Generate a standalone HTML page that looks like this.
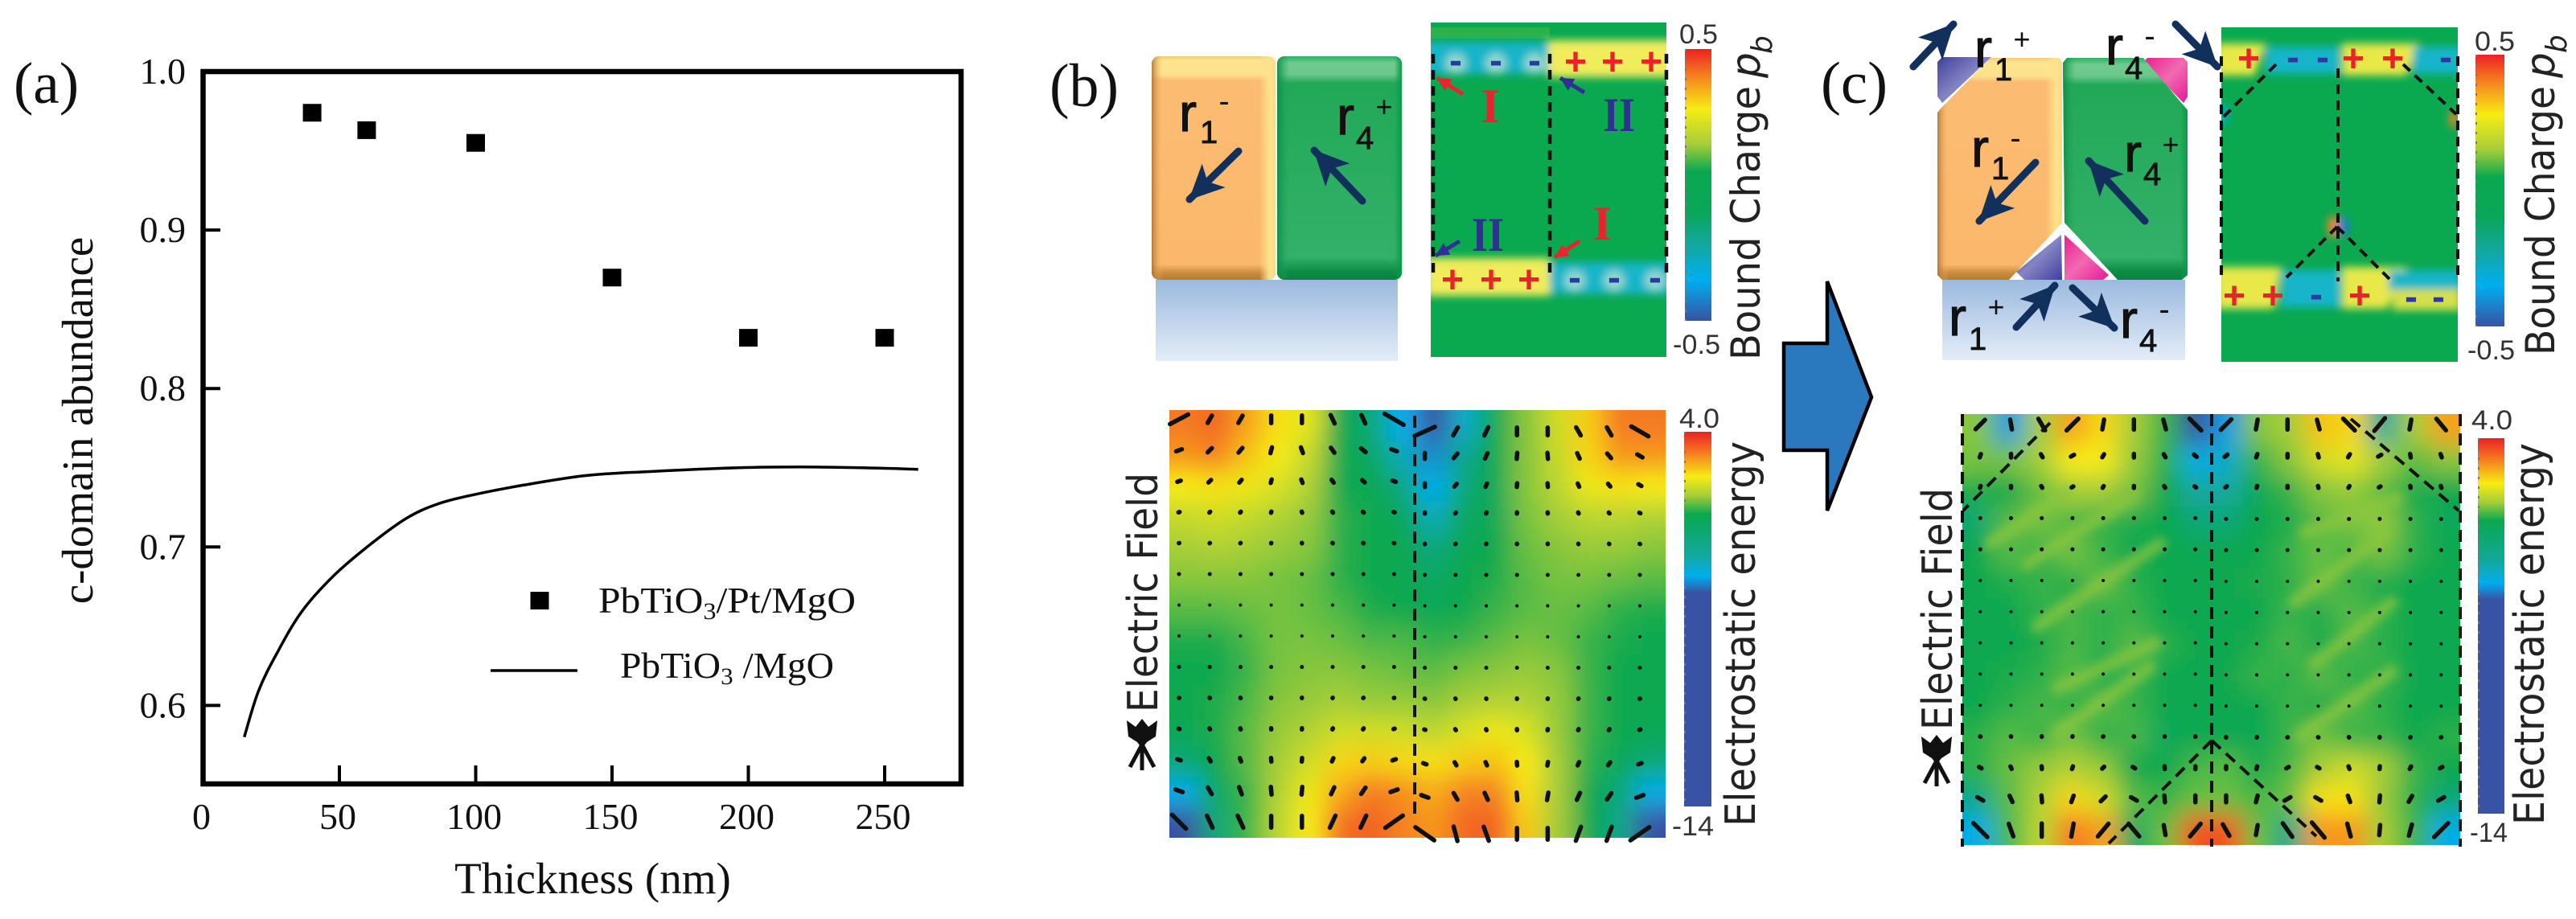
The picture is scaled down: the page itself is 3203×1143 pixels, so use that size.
<!DOCTYPE html>
<html lang="en">
<head>
<meta charset="utf-8">
<title>c-domain abundance and domain charge maps</title>
<style>
html,body{margin:0;padding:0;background:#fff;}
svg{display:block;}
.serif{font-family:"Liberation Serif",serif;fill:#111;}
.sans{font-family:"DejaVu Sans",sans-serif;fill:#222;}
.cb{font-family:"Liberation Sans",sans-serif;fill:#333;font-size:34px;}
.chg{font-family:"Liberation Sans",sans-serif;font-weight:bold;font-size:48px;text-anchor:middle;}
.r{font-family:"Liberation Sans",sans-serif;fill:#111;stroke:#111;stroke-width:1.2;font-size:66px;}
.d{font-family:"Liberation Sans",sans-serif;fill:#111;stroke:#111;stroke-width:.8;font-size:40px;}
.s{font-family:"Liberation Sans",sans-serif;fill:#111;text-anchor:middle;}
.roman{font-family:"Liberation Serif",serif;font-weight:bold;font-size:60px;text-anchor:middle;}
</style>
</head>
<body>
<svg id="fig" xmlns="http://www.w3.org/2000/svg" width="3203" height="1143" viewBox="0 0 3203 1143">
<defs>
  <linearGradient id="gOrange" x1="0" y1="0" x2="0" y2="1">
    <stop offset="0" stop-color="#f6c878"/><stop offset=".02" stop-color="#fde48f"/><stop offset=".08" stop-color="#fde28d"/><stop offset=".11" stop-color="#fbbc72"/><stop offset=".93" stop-color="#fbb86c"/><stop offset=".97" stop-color="#c98b3d"/><stop offset="1" stop-color="#b87c30"/>
  </linearGradient>
  <linearGradient id="gOrangeH" x1="0" y1="0" x2="1" y2="0">
    <stop offset="0" stop-color="#a8702a" stop-opacity=".85"/><stop offset=".09" stop-color="#fbbc72" stop-opacity="0"/><stop offset=".87" stop-color="#fde28d" stop-opacity="0"/><stop offset=".95" stop-color="#fde28d"/><stop offset="1" stop-color="#fddc80"/>
  </linearGradient>
  <linearGradient id="gGreen" x1="0" y1="0" x2="0" y2="1">
    <stop offset="0" stop-color="#2cb062"/><stop offset=".03" stop-color="#6fca90"/><stop offset=".08" stop-color="#6cc88d"/><stop offset=".12" stop-color="#21a957"/><stop offset=".9" stop-color="#33b06a"/><stop offset=".96" stop-color="#0d8d46"/><stop offset="1" stop-color="#0a8140"/>
  </linearGradient>
  <linearGradient id="gGreenH" x1="0" y1="0" x2="1" y2="0">
    <stop offset="0" stop-color="#0b8a45" stop-opacity=".9"/><stop offset=".1" stop-color="#21a957" stop-opacity="0"/><stop offset=".94" stop-color="#0b9a4a" stop-opacity="0"/><stop offset="1" stop-color="#0b9a4a"/>
  </linearGradient>
  <linearGradient id="gSub" x1="0" y1="0" x2="0" y2="1">
    <stop offset="0" stop-color="#9cb9df"/><stop offset="1" stop-color="#e3edf8"/>
  </linearGradient>
  <linearGradient id="gPurple" x1="0" y1="0" x2="1" y2="1">
    <stop offset="0" stop-color="#3f3f9f"/><stop offset=".5" stop-color="#8584c4"/><stop offset="1" stop-color="#3f3f9f"/>
  </linearGradient>
  <linearGradient id="gPink" x1="0" y1="0" x2="1" y2="1">
    <stop offset="0" stop-color="#ec1c8f"/><stop offset=".5" stop-color="#f06ab0"/><stop offset="1" stop-color="#e8189a"/>
  </linearGradient>
  <linearGradient id="gCharge" x1="0" y1="0" x2="0" y2="1">
    <stop offset="0" stop-color="#ed2024"/><stop offset=".1" stop-color="#f58220"/><stop offset=".22" stop-color="#f7ec13"/><stop offset=".35" stop-color="#a6ce39"/><stop offset=".45" stop-color="#0aa84f"/><stop offset=".6" stop-color="#0aa65a"/><stop offset=".72" stop-color="#13a89e"/><stop offset=".85" stop-color="#00aeef"/><stop offset="1" stop-color="#3953a4"/>
  </linearGradient>
  <linearGradient id="gEnergy" x1="0" y1="0" x2="0" y2="1">
    <stop offset="0" stop-color="#ed2024"/><stop offset=".06" stop-color="#f58220"/><stop offset=".12" stop-color="#f7ec13"/><stop offset=".17" stop-color="#a6ce39"/><stop offset=".22" stop-color="#0aa84f"/><stop offset=".33" stop-color="#13a89e"/><stop offset=".385" stop-color="#00aeef"/><stop offset=".43" stop-color="#3953a4"/><stop offset="1" stop-color="#3953a4"/>
  </linearGradient>
  <filter id="blurMap" filterUnits="userSpaceOnUse" x="1300" y="400" width="1900" height="743"><feGaussianBlur stdDeviation="15"/></filter>
  <filter id="blurBand" filterUnits="userSpaceOnUse" x="1700" y="0" width="1450" height="480"><feGaussianBlur stdDeviation="5"/></filter>
  <filter id="blurStreak" filterUnits="userSpaceOnUse" x="2400" y="500" width="700" height="600"><feGaussianBlur stdDeviation="6"/></filter>
  <clipPath id="clipEB"><rect x="1454" y="510" width="617" height="532"/></clipPath>
  <clipPath id="clipEC"><rect x="2440" y="515" width="619" height="536"/></clipPath>
  <clipPath id="clipMB"><rect x="1779" y="28" width="293" height="416"/></clipPath>
  <clipPath id="clipMC"><rect x="2762" y="34" width="294" height="416"/></clipPath>
  <marker id="headNavy" markerUnits="strokeWidth" markerWidth="4.8" markerHeight="4.6" viewBox="0 0 4.8 4.6" refX="4.7" refY="2.3" orient="auto"><polygon points="0,0 4.8,2.3 0,4.6 1.2,2.3" fill="#12305c"/></marker>
  <marker id="headRed" markerUnits="strokeWidth" markerWidth="3.4" markerHeight="3.4" viewBox="0 0 3.4 3.4" refX="3.3" refY="1.7" orient="auto"><polygon points="0,0 3.4,1.7 0,3.4" fill="#e5262c"/></marker>
  <marker id="headBlue" markerUnits="strokeWidth" markerWidth="3.4" markerHeight="3.4" viewBox="0 0 3.4 3.4" refX="3.3" refY="1.7" orient="auto"><polygon points="0,0 3.4,1.7 0,3.4" fill="#2e3192"/></marker>
</defs>

<rect x="0" y="0" width="3203" height="1143" fill="#fff"/>

<!-- PANEL A -->
<g id="panelA">
  <text class="serif" x="17" y="128" font-size="73">(a)</text>
  <rect x="252.5" y="89" width="942.5" height="886" fill="none" stroke="#000" stroke-width="6.5"/>
  <g id="aTicks"></g>
  <text class="serif" transform="translate(115,523) rotate(-90)" text-anchor="middle" font-size="55">c-domain abundance</text>
  <text class="serif" x="737" y="1111" text-anchor="middle" font-size="55">Thickness (nm)</text>
  <g id="aSeries"></g>
  <rect x="659.5" y="736" width="23" height="22" fill="#000"/>
  <text class="serif" x="744" y="762" font-size="46" textLength="320" lengthAdjust="spacingAndGlyphs">PbTiO<tspan font-size="30" dy="8">3</tspan><tspan dy="-8">/Pt/MgO</tspan></text>
  <line x1="610" y1="834" x2="718" y2="834" stroke="#000" stroke-width="3.5"/>
  <text class="serif" x="771" y="843" font-size="46" textLength="266" lengthAdjust="spacingAndGlyphs">PbTiO<tspan font-size="30" dy="8">3</tspan><tspan dy="-8"> /MgO</tspan></text>
</g>

<!-- PANEL B SCHEMATIC -->
<g id="panelB">
  <text class="serif" x="1305" y="132" font-size="76" textLength="86" lengthAdjust="spacingAndGlyphs">(b)</text>
  <rect x="1437" y="348" width="301" height="101" fill="url(#gSub)"/>
  <rect x="1432" y="70" width="154" height="278" rx="9" fill="url(#gOrange)"/>
  <rect x="1432" y="70" width="154" height="278" rx="9" fill="url(#gOrangeH)"/>
  <rect x="1588" y="70" width="155" height="278" rx="9" fill="url(#gGreen)"/>
  <rect x="1588" y="70" width="155" height="278" rx="9" fill="url(#gGreenH)"/>
  <text class="r" x="1466" y="163">r</text>
  <text class="d" x="1492" y="178">1</text>
  <text class="s" x="1522" y="139" font-size="40">-</text>
  <text class="r" x="1662" y="167">r</text>
  <text class="d" x="1686" y="185">4</text>
  <text class="s" x="1721" y="145" font-size="36">+</text>
  <line x1="1540" y1="188" x2="1479" y2="248" stroke="#12305c" stroke-width="9" stroke-linecap="round" marker-end="url(#headNavy)"/>
  <line x1="1694" y1="250" x2="1634" y2="187" stroke="#12305c" stroke-width="9" stroke-linecap="round" marker-end="url(#headNavy)"/>

  <g>
    <rect x="1779" y="28" width="293" height="416" fill="#0aa84f"/>
    <rect x="1779" y="34" width="148" height="14" fill="#2cb14a"/>
    <g clip-path="url(#clipMB)">
      <g filter="url(#blurBand)">
        <rect x="1770" y="52" width="155" height="40" fill="#18b5c9"/>
        <rect x="1925" y="50" width="157" height="46" fill="#f0ec5c"/>
        <rect x="1772" y="321" width="155" height="47" fill="#f0ec5c"/>
        <rect x="1927" y="326" width="155" height="40" fill="#18b5c9"/>
        <circle cx="1810" cy="79" r="13" fill="#8fd8cf"/>
        <circle cx="1860" cy="79" r="13" fill="#8fd8cf"/>
        <circle cx="1908" cy="79" r="13" fill="#8fd8cf"/>
        <circle cx="1958" cy="349" r="13" fill="#8fd8cf"/>
        <circle cx="2007" cy="349" r="13" fill="#8fd8cf"/>
        <circle cx="2058" cy="349" r="13" fill="#8fd8cf"/>
      </g>
    </g>
    <line x1="1782" y1="67" x2="1782" y2="340" stroke="#111" stroke-width="4.5" stroke-dasharray="12 8"/>
    <line x1="1927" y1="67" x2="1927" y2="340" stroke="#111" stroke-width="4.5" stroke-dasharray="12 8"/>
    <line x1="2072" y1="67" x2="2072" y2="340" stroke="#111" stroke-width="4.5" stroke-dasharray="12 8"/>
    <text class="chg" x="1810" y="91" fill="#2b3a9f">-</text>
    <text class="chg" x="1860" y="91" fill="#2b3a9f">-</text>
    <text class="chg" x="1908" y="91" fill="#2b3a9f">-</text>
    <text class="chg" x="1959" y="93" fill="#e8232a">+</text>
    <text class="chg" x="2005" y="93" fill="#e8232a">+</text>
    <text class="chg" x="2053" y="93" fill="#e8232a">+</text>
    <text class="chg" x="1806" y="364" fill="#e8232a">+</text>
    <text class="chg" x="1854" y="364" fill="#e8232a">+</text>
    <text class="chg" x="1901" y="364" fill="#e8232a">+</text>
    <text class="chg" x="1958" y="361" fill="#2b3a9f">-</text>
    <text class="chg" x="2007" y="361" fill="#2b3a9f">-</text>
    <text class="chg" x="2058" y="361" fill="#2b3a9f">-</text>
    <text class="roman" x="1853" y="152" fill="#e5262c">I</text>
    <text class="roman" x="2013" y="163" textLength="40" lengthAdjust="spacingAndGlyphs" fill="#2e3192">II</text>
    <text class="roman" x="1850" y="312" textLength="40" lengthAdjust="spacingAndGlyphs" fill="#2e3192">II</text>
    <text class="roman" x="1992" y="298" fill="#e5262c">I</text>
    <line x1="1819" y1="117" x2="1787" y2="97" stroke="#e5262c" stroke-width="5" marker-end="url(#headRed)"/>
    <line x1="1970" y1="115" x2="1940" y2="97" stroke="#2e3192" stroke-width="5" marker-end="url(#headBlue)"/>
    <line x1="1815" y1="300" x2="1785" y2="318" stroke="#2e3192" stroke-width="5" marker-end="url(#headBlue)"/>
    <line x1="1964" y1="300" x2="1933" y2="320" stroke="#e5262c" stroke-width="5" marker-end="url(#headRed)"/>
  </g>
  <g>
    <rect x="2095" y="61" width="33" height="338" fill="url(#gCharge)"/>
    <line x1="2096" y1="61" x2="2096" y2="399" stroke="#777" stroke-width="2" stroke-dasharray="3 9"/>
    <text class="cb" x="2088" y="54" textLength="48" lengthAdjust="spacingAndGlyphs">0.5</text>
    <text class="cb" x="2080" y="440" textLength="59" lengthAdjust="spacingAndGlyphs">-0.5</text>
  </g>
  <text class="sans" transform="translate(2188,448) rotate(-90)" font-size="50" textLength="341" lengthAdjust="spacingAndGlyphs">Bound Charge</text>
  <text class="sans" transform="translate(2188,97) rotate(-90)" font-size="50" font-style="italic">p</text>
  <text class="sans" transform="translate(2203,67) rotate(-90)" font-size="36" font-style="italic">b</text>
</g>

<!-- PANEL B ENERGY -->
<g>
  <g clip-path="url(#clipEB)"><g id="heatB" filter="url(#blurMap)"></g></g>
  <line x1="1759" y1="517" x2="1759" y2="1015" stroke="#111" stroke-width="4" stroke-dasharray="15 9"/>
  <g id="quiverB"></g>
  <rect x="2094" y="537" width="34" height="466" fill="url(#gEnergy)"/>
  <line x1="2095" y1="537" x2="2095" y2="1003" stroke="#777" stroke-width="2" stroke-dasharray="3 9"/>
  <text class="cb" x="2088" y="532" textLength="50" lengthAdjust="spacingAndGlyphs">4.0</text>
  <text class="cb" x="2079" y="1039" textLength="52" lengthAdjust="spacingAndGlyphs">-14</text>
  <text class="sans" transform="translate(2182,1028) rotate(-90)" font-size="52" textLength="479" lengthAdjust="spacingAndGlyphs">Electrostatic energy</text>
  <text class="sans" transform="translate(1439,886) rotate(-90)" font-size="52" textLength="298" lengthAdjust="spacingAndGlyphs">Electric Field</text>
  <g transform="translate(1420,926)">
    <path d="M-19,-30 L-8,-22 L0,-32 L8,-22 L19,-30 L17,-10 L6,-3 L0,5 L-6,-3 L-17,-10 Z" fill="#111"/>
    <path d="M0,0 L-15,28 M0,0 L15,28 M0,5 L0,32" stroke="#111" stroke-width="5" fill="none"/>
  </g>
</g>

<!-- FLOW ARROW -->
<polygon points="2218,427 2272,427 2272,350 2327,494 2272,635 2272,560 2218,560" fill="#2a79bf" stroke="#000" stroke-width="4.5" stroke-linejoin="miter"/>

<!-- PANEL C SCHEMATIC -->
<g id="panelC">
  <text class="serif" x="2264" y="128" font-size="74" textLength="83" lengthAdjust="spacingAndGlyphs">(c)</text>
  <rect x="2415" y="348" width="302" height="100" fill="url(#gSub)"/>
  <polygon points="2409,77 2415,71 2476,71 2415,128 2409,120" fill="url(#gPurple)"/>
  <polygon points="2665,77 2670,72 2715,72 2720,77 2720,120 2715,128" fill="url(#gPink)"/>
  <polygon points="2563,292 2564,348 2517,348 2507,338" fill="url(#gPurple)"/>
  <polygon points="2567,292 2622,342 2615,348 2567,348" fill="url(#gPink)"/>
  <polygon points="2475,72 2560,72 2564,78 2564,277 2498,348 2415,348 2409,342 2409,140 2415,133" fill="url(#gOrange)"/>
  <polygon points="2475,72 2560,72 2564,78 2564,277 2498,348 2415,348 2409,342 2409,140 2415,133" fill="url(#gOrangeH)"/>
  <polygon points="2570,72 2665,72 2720,137 2720,342 2713,348 2633,348 2567,277 2565,78" fill="url(#gGreen)"/>
  <polygon points="2570,72 2665,72 2720,137 2720,342 2713,348 2633,348 2567,277 2565,78" fill="url(#gGreenH)"/>
  <text class="r" x="2455" y="83">r</text>
  <text class="d" x="2480" y="100">1</text>
  <text class="s" x="2514" y="61" font-size="36">+</text>
  <text class="r" x="2618" y="80">r</text>
  <text class="d" x="2642" y="98">4</text>
  <text class="s" x="2673" y="58" font-size="40">-</text>
  <text class="r" x="2451" y="207">r</text>
  <text class="d" x="2476" y="223">1</text>
  <text class="s" x="2506" y="185" font-size="40">-</text>
  <text class="r" x="2641" y="213">r</text>
  <text class="d" x="2665" y="230">4</text>
  <text class="s" x="2699" y="192" font-size="36">+</text>
  <text class="r" x="2423" y="417">r</text>
  <text class="d" x="2448" y="435">1</text>
  <text class="s" x="2482" y="394" font-size="36">+</text>
  <text class="r" x="2636" y="420">r</text>
  <text class="d" x="2660" y="437">4</text>
  <text class="s" x="2691" y="398" font-size="40">-</text>
  <line x1="2379" y1="83" x2="2429" y2="30" stroke="#12305c" stroke-width="9" stroke-linecap="round" marker-end="url(#headNavy)"/>
  <line x1="2705" y1="30" x2="2757" y2="83" stroke="#12305c" stroke-width="9" stroke-linecap="round" marker-end="url(#headNavy)"/>
  <line x1="2531" y1="202" x2="2461" y2="275" stroke="#12305c" stroke-width="9" stroke-linecap="round" marker-end="url(#headNavy)"/>
  <line x1="2667" y1="275" x2="2597" y2="200" stroke="#12305c" stroke-width="9" stroke-linecap="round" marker-end="url(#headNavy)"/>
  <line x1="2507" y1="407" x2="2555" y2="355" stroke="#12305c" stroke-width="9" stroke-linecap="round" marker-end="url(#headNavy)"/>
  <line x1="2577" y1="358" x2="2629" y2="408" stroke="#12305c" stroke-width="9" stroke-linecap="round" marker-end="url(#headNavy)"/>

  <g>
    <rect x="2762" y="34" width="294" height="416" fill="#0aa84f"/>
    <g clip-path="url(#clipMC)">
      <g filter="url(#blurBand)">
        <polygon points="2755,54 2817,54 2803,94 2755,94" fill="#e8e84a"/>
        <rect x="2817" y="58" width="92" height="34" fill="#18b5c9"/>
        <polygon points="2912,54 3008,54 2992,94 2912,94" fill="#e8e84a"/>
        <rect x="3000" y="58" width="64" height="34" fill="#18b5c9"/>
        <polygon points="2755,332 2836,332 2828,384 2755,384" fill="#e8e84a"/>
        <rect x="2836" y="336" width="74" height="46" fill="#18b5c9"/>
        <polygon points="2912,332 2992,332 2968,384 2912,384" fill="#e8e84a"/>
        <rect x="2970" y="336" width="90" height="26" fill="#18b5c9"/>
        <rect x="2975" y="360" width="85" height="26" fill="#d6e04a"/>
        <ellipse cx="2901" cy="282" rx="7" ry="14" fill="#f58220"/>
        <ellipse cx="2914" cy="282" rx="7" ry="12" fill="#1b7fd0"/>
        <rect x="2762" y="130" width="7" height="24" fill="#00aeef"/>
        <rect x="3046" y="138" width="9" height="20" fill="#f58220"/>
      </g>
    </g>
    <g fill="none" stroke="#111" stroke-width="4" stroke-dasharray="12 8">
      <line x1="2762" y1="70" x2="2762" y2="350"/>
      <line x1="2907" y1="85" x2="2907" y2="350"/>
      <line x1="3056" y1="70" x2="3056" y2="350"/>
      <line x1="2830" y1="80" x2="2763" y2="147"/>
      <line x1="2988" y1="80" x2="3054" y2="142"/>
      <line x1="2906" y1="282" x2="2843" y2="345"/>
      <line x1="2906" y1="282" x2="2971" y2="347"/>
    </g>
    <text class="chg" x="2796" y="89" fill="#e8232a">+</text>
    <text class="chg" x="2926" y="89" fill="#e8232a">+</text>
    <text class="chg" x="2975" y="89" fill="#e8232a">+</text>
    <text class="chg" x="2851" y="87" fill="#2b3a9f">-</text>
    <text class="chg" x="2888" y="87" fill="#2b3a9f">-</text>
    <text class="chg" x="3041" y="87" fill="#2b3a9f">-</text>
    <text class="chg" x="2778" y="384" fill="#e8232a">+</text>
    <text class="chg" x="2826" y="384" fill="#e8232a">+</text>
    <text class="chg" x="2934" y="384" fill="#e8232a">+</text>
    <text class="chg" x="2880" y="382" fill="#2b3a9f">-</text>
    <text class="chg" x="2998" y="385" fill="#2b3a9f">-</text>
    <text class="chg" x="3032" y="385" fill="#2b3a9f">-</text>
  </g>
  <g>
    <rect x="3078" y="68" width="36" height="338" fill="url(#gCharge)"/>
    <line x1="3079" y1="68" x2="3079" y2="406" stroke="#777" stroke-width="2" stroke-dasharray="3 9"/>
    <text class="cb" x="3077" y="63" textLength="50" lengthAdjust="spacingAndGlyphs">0.5</text>
    <text class="cb" x="3068" y="447" textLength="59" lengthAdjust="spacingAndGlyphs">-0.5</text>
  </g>
  <text class="sans" transform="translate(3176,442) rotate(-90)" font-size="50" textLength="335" lengthAdjust="spacingAndGlyphs">Bound Charge</text>
  <text class="sans" transform="translate(3176,97) rotate(-90)" font-size="50" font-style="italic">p</text>
  <text class="sans" transform="translate(3191,66) rotate(-90)" font-size="36" font-style="italic">b</text>
</g>

<!-- PANEL C ENERGY -->
<g>
  <g clip-path="url(#clipEC)">
    <g id="heatC" filter="url(#blurMap)"></g>
    <g filter="url(#blurStreak)" stroke="#8cc63f" stroke-opacity=".8" stroke-width="15" stroke-linecap="round">
      <line x1="2475" y1="676" x2="2571" y2="612"/>
      <line x1="2520" y1="702" x2="2654" y2="616"/>
      <line x1="2533" y1="779" x2="2686" y2="676"/>
      <line x1="2558" y1="856" x2="2680" y2="800"/>
      <line x1="2558" y1="912" x2="2673" y2="830"/>
      <line x1="2865" y1="663" x2="2981" y2="620"/>
      <line x1="2853" y1="749" x2="2961" y2="667"/>
      <line x1="2878" y1="826" x2="2974" y2="749"/>
      <line x1="2859" y1="916" x2="2974" y2="835"/>
    </g>
  </g>
  <g fill="none" stroke="#111" stroke-width="4" stroke-dasharray="15 9">
    <line x1="2440" y1="515" x2="2440" y2="1053"/>
    <line x1="2750" y1="515" x2="2750" y2="1053"/>
    <line x1="3059" y1="515" x2="3059" y2="1053"/>
    <line x1="2549" y1="526" x2="2441" y2="635"/>
    <line x1="2923" y1="521" x2="3057" y2="635"/>
    <line x1="2750" y1="921" x2="2622" y2="1049"/>
    <line x1="2750" y1="921" x2="2880" y2="1040"/>
  </g>
  <g id="quiverC"></g>
  <rect x="3081" y="545" width="33" height="467" fill="url(#gEnergy)"/>
  <line x1="3082" y1="545" x2="3082" y2="1012" stroke="#777" stroke-width="2" stroke-dasharray="3 9"/>
  <text class="cb" x="3073" y="534" textLength="51" lengthAdjust="spacingAndGlyphs">4.0</text>
  <text class="cb" x="3071" y="1047" textLength="47" lengthAdjust="spacingAndGlyphs">-14</text>
  <text class="sans" transform="translate(3163,1026) rotate(-90)" font-size="52" textLength="475" lengthAdjust="spacingAndGlyphs">Electrostatic energy</text>
  <text class="sans" transform="translate(2427,908) rotate(-90)" font-size="52" textLength="301" lengthAdjust="spacingAndGlyphs">Electric Field</text>
  <g transform="translate(2408,946)">
    <path d="M-19,-30 L-8,-22 L0,-32 L8,-22 L19,-30 L17,-10 L6,-3 L0,5 L-6,-3 L-17,-10 Z" fill="#111"/>
    <path d="M0,0 L-15,28 M0,0 L15,28 M0,5 L0,32" stroke="#111" stroke-width="5" fill="none"/>
  </g>
</g>
</svg>

<script>
// Panel (a) data
const thicknessNm = [40, 60, 100, 150, 200, 250];
const abundancePt = [0.974, 0.963, 0.955, 0.870, 0.832, 0.832];
const curveThickness = [15.1, 20.3, 27.1, 36.1, 47.4, 60.9, 74.5, 85.8, 99.3, 117.4, 140, 162.5, 196.4, 219, 241.5, 262.3];
const curveAbundance = [0.580, 0.609, 0.633, 0.659, 0.681, 0.701, 0.718, 0.727, 0.733, 0.739, 0.745, 0.7475, 0.750, 0.7505, 0.750, 0.749];
const xTickLabels = ["0", "50", "100", "150", "200", "250"];
const yTickLabels = ["1.0", "0.9", "0.8", "0.7", "0.6"];

// Electrostatic energy maps (rows top to bottom, columns left to right)
const energyB = [
 [2.9,3.1,2.5,1.9,1.6,0,-1,-2.9,-4,-2.5,0,0.8,1.4,2.1,2.9,2.9],
 [2.6,2.8,2.2,1.8,1.3,0,-0.5,-2.3,-3.1,-1.6,0,0.8,1.3,2,2.6,2.6],
 [1.8,1.9,1.7,1.5,1.1,0,-0.1,-1.2,-2.9,-1,-0.2,0.8,1.2,1.7,1.9,1.8],
 [1.3,1.4,1.3,1.1,0.9,0.2,0,-0.3,-2.3,-0.5,-0.2,0.7,1,1.2,1.2,1.1],
 [1,1.1,1,0.9,0.8,0.2,0,0,-1.2,-0.2,0,0.6,0.8,0.9,0.9,0.8],
 [0.8,0.8,0.8,0.7,0.6,0.2,0,0,-0.5,0,0.1,0.5,0.7,0.7,0.6,0.5],
 [0.5,0.5,0.6,0.7,0.6,0.4,0.1,0,-0.2,0,0.3,0.5,0.6,0.5,0.2,0.1],
 [0.1,0.1,0.4,0.7,0.7,0.6,0.4,0.4,0.2,0.3,0.5,0.7,0.6,0.3,0.1,0],
 [0,0,0.3,0.7,0.8,0.8,0.7,0.6,0.5,0.7,0.8,0.9,0.8,0.3,0,0],
 [0,0.1,0.4,0.8,0.9,1,0.9,0.9,0.8,1,1.1,1.1,0.9,0.3,0,0],
 [-0.2,0.1,0.5,0.9,1.1,1.4,1.4,1.4,1.2,1.5,1.7,1.5,0.9,0.3,0,-0.2],
 [-1,0,0.5,1,1.4,2,2.1,2,1.9,2.1,2.2,1.8,1,0.2,-0.3,-1],
 [-2.8,-0.5,0.3,1.1,1.7,2.4,2.9,2.7,2.4,2.8,2.8,1.9,1,0,-1,-2.8],
 [-4,-1,0.3,1.2,1.8,3,3.2,2.8,2.6,3.1,3.2,2.1,1,0,-1.5,-4]
];
const energyC = [
 [0.8,-3,1.0,2.5,2.0,1.0,0.3,-3.5,-3,0.8,1.0,2.2,2.0,-2,1,2.5],
 [0.7,0.7,1,1.8,1.8,0.9,0.2,-2.8,-2.5,0.3,0.8,1.4,1.6,1,0.5,0.8],
 [0.1,0,0.6,1,1,0.7,0,-2,-2,-0.2,0.3,0.8,0.9,0.5,0.1,0],
 [-0.8,0.5,0.7,0.4,0.3,0.1,0,-1,-1,0,0.1,0.5,0.7,0.9,0.2,-0.3],
 [0,0.5,0.2,0.7,0.3,0,0,-0.1,0,0,0.3,0.6,0.4,0.7,0.2,0],
 [0,0.1,0.3,0.1,0.6,0.2,0,0,0,0.1,0.2,0.6,0.3,0.1,0,0],
 [0,0,0.2,0.4,0.2,0.3,0,0,0,0,0.3,0.1,0.5,0.2,0,0],
 [0,0,0.1,0.4,0.2,0.5,0.2,0,0,0.1,0.4,0.1,0.4,0.2,0,0],
 [0,0.1,0.2,0.5,0.1,0.3,0,0,0,0.3,0.2,0.5,0.2,0.3,0,0],
 [0,0.2,0.4,0.2,0.5,0.3,0,0,0,0,0.3,0.1,0.5,0.2,0,0],
 [0.2,0.5,0.3,0.7,0.2,0.4,-0.3,0,0,-0.2,0.3,0.7,0.3,0.3,0,0.2],
 [0.2,0.6,0.9,1.1,0.9,0,0,0.4,0.5,0.1,0.4,1,1.4,1,0.3,0],
 [-1.5,0.5,1.1,2,1.4,0.5,0.3,0.6,0.6,0.4,0.6,1.9,1.9,0.9,0.2,-1],
 [-2.8,0.4,1.2,2.9,2.5,-0.5,0.6,3.4,3.4,0.6,-1.5,2.6,2.6,1,0.3,-2.8]
];

// Colormap: energy value and matching colour
const cmapEnergy = [-14, -3.4, -2.9, -2, 0, 1, 1.8, 2.8, 4];
const cmapColor = [[57,83,164],[57,83,164],[0,174,239],[19,168,158],[10,168,79],[166,206,57],[247,236,19],[245,130,32],[237,32,36]];

// Field direction (degrees from vertical) per column for the outer rows
const fieldAngleRow0B = [62,30,30,0,0,-25,-25,-60,66,30,25,0,0,-30,-30,-60];
const fieldAngleRow1B = [70,45,40,15,-20,-35,-50,-70,0,40,25,5,-5,-25,-40,-60];
const fieldAngleRow12B = [-70,-30,-20,-5,5,25,35,70,-70,-30,-25,-5,10,25,35,70];
const fieldAngleRow13B = [-45,-25,-25,0,0,25,25,55,-55,-15,-20,0,0,20,20,55];
const fieldAngleRow0C = [45,-10,-30,45,10,0,-15,-45,45,10,0,-15,-45,40,10,-40];
const fieldAngleRow1C = [20,0,-30,60,30,0,-30,-50,50,20,0,-15,30,60,-10,-20];
const fieldAngleRow12C = [-60,-25,-5,20,45,-60,-5,0,0,15,60,-60,-20,5,30,60];
const fieldAngleRow13C = [-45,-20,0,10,40,-40,-10,40,-30,10,-35,-40,-15,5,15,45];
// Field tick length by row, plus full per-column lengths for the outermost rows
const fieldLengthB = [16,13,10,7,6,5,4,4,5,6,7,10,15,22];
const fieldLengthRow0B = [31,16,16,15,15,17,17,33,33,17,17,15,15,17,17,30];
const fieldLengthRow13B = [30,22,22,20,20,22,22,32,34,24,24,20,20,24,24,34];
const fieldLengthC = [18,10,8,5,5,4,4,4,4,4,6,9,14,22];
const fieldLengthRow0C = [22,18,22,26,18,18,18,26,24,18,18,18,26,26,18,24];
const fieldLengthRow13C = [30,22,22,22,26,26,18,26,22,18,26,30,22,18,20,30];

const NS = "http://www.w3.org/2000/svg";
const xScale = v => 252.5 + v * 3.39;
const yScale = v => 89 + (1 - v) * 1971;

function node(parent, tag) {
  const el = document.createElementNS(NS, tag);
  parent.appendChild(el);
  return el;
}
function attr(el, key, val) { el.setAttribute(key, val); }

// Ticks and tick labels
const tickGroup = document.getElementById("aTicks");
xTickLabels.forEach(lab => {
  const v = Number(lab);
  const t = node(tickGroup, "line");
  
  
  attr(t, "x1", xScale(v)); attr(t, "x2", xScale(v));
  attr(t, "y1", 975); attr(t, "y2", 952);
  attr(t, "stroke", "#000"); attr(t, "stroke-width", 4);
  const s = node(tickGroup, "text");
  
  
  attr(s, "class", "serif");
  attr(s, "x", xScale(v) - 2); attr(s, "y", 1031);
  attr(s, "text-anchor", "middle"); attr(s, "font-size", 46);
  s.textContent = lab;
});
yTickLabels.forEach(lab => {
  const v = Number(lab);
  const t = node(tickGroup, "line");
  
  
  attr(t, "x1", 252.5); attr(t, "x2", 274);
  attr(t, "y1", yScale(v)); attr(t, "y2", yScale(v));
  attr(t, "stroke", "#000"); attr(t, "stroke-width", 4);
  const s = node(tickGroup, "text");
  
  
  attr(s, "class", "serif");
  attr(s, "x", 231); attr(s, "y", yScale(v) + 15);
  attr(s, "text-anchor", "end"); attr(s, "font-size", 46);
  s.textContent = lab;
});

// Series: smooth path through the read points
const seriesGroup = document.getElementById("aSeries");
const curve = node(seriesGroup, "path");


const curvePx = curveThickness.map((x, i) => [xScale(x), yScale(curveAbundance[i])]);
let curveD = "M" + curvePx[0][0].toFixed(1) + "," + curvePx[0][1].toFixed(1);
for (let i = 0; i < curvePx.length - 1; i++) {
  const p0 = curvePx[Math.max(0, i - 1)], p1 = curvePx[i], p2 = curvePx[i + 1], p3 = curvePx[Math.min(curvePx.length - 1, i + 2)];
  const c1 = [p1[0] + (p2[0] - p0[0]) / 6, p1[1] + (p2[1] - p0[1]) / 6];
  const c2 = [p2[0] - (p3[0] - p1[0]) / 6, p2[1] - (p3[1] - p1[1]) / 6];
  curveD += " C" + c1[0].toFixed(1) + "," + c1[1].toFixed(1) + " " + c2[0].toFixed(1) + "," + c2[1].toFixed(1) + " " + p2[0].toFixed(1) + "," + p2[1].toFixed(1);
}
attr(curve, "d", curveD);
attr(curve, "fill", "none"); attr(curve, "stroke", "#000"); attr(curve, "stroke-width", 3.5);
thicknessNm.forEach((x, i) => {
  const m = node(seriesGroup, "rect");
  
  
  attr(m, "x", xScale(x) - 11.5); attr(m, "y", yScale(abundancePt[i]) - 11);
  attr(m, "width", 23); attr(m, "height", 22); attr(m, "fill", "#000");
});

function energyColor(e) {
  let i = 0;
  while (i < cmapEnergy.length - 2 && e > cmapEnergy[i + 1]) i++;
  const f = Math.max(0, Math.min(1, (e - cmapEnergy[i]) / (cmapEnergy[i + 1] - cmapEnergy[i])));
  const a = cmapColor[i], b = cmapColor[i + 1];
  return "rgb(" + [0, 1, 2].map(k => Math.round(a[k] + (b[k] - a[k]) * f)).join(",") + ")";
}

function drawHeat(id, grid, x0, y0, w, h) {
  const g = document.getElementById(id);
  const cw = w / grid[0].length, ch = h / grid.length;
  const pad = 60;
  grid.forEach((row, r) => row.forEach((val, c) => {
    const cell = node(g, "rect");
    
    
    const left = c === 0 ? pad : 0, right = c === row.length - 1 ? pad : 0;
    const top = r === 0 ? pad : 0, bot = r === grid.length - 1 ? pad : 0;
    attr(cell, "x", x0 + c * cw - left);
    attr(cell, "y", y0 + r * ch - top);
    attr(cell, "width", cw + left + right + 0.6);
    attr(cell, "height", ch + top + bot + 0.6);
    attr(cell, "fill", energyColor(val));
  }));
}
drawHeat("heatB", energyB, 1454, 510, 617, 532);
drawHeat("heatC", energyC, 2440, 515, 619, 536);

function drawQuiver(id, cfg) {
  const g = document.getElementById(id);
  const last = cfg.lens.length - 1;
  cfg.lens.forEach((rowLen, r) => {
    for (let c = 0; c < 16; c++) {
      let deg = 0;
      if (r === 0) deg = cfg.row0[c];
      else if (r <= 5) deg = cfg.row1[c];
      else if (r === last) deg = cfg.row13[c];
      else deg = cfg.row12[c];
      const len = r === 0 ? cfg.len0[c] : r === last ? cfg.len13[c] : rowLen;
      const t = node(g, "line");
      
      
      const a = deg * Math.PI / 180;
      const width = Math.min(5.5, len);
      const draw = Math.max(0.1, len - width);
      const cx = cfg.x0 + c * cfg.dx;
      const edge = Math.min(r, last - r);
      const drop = c > 7 ? (edge === 0 ? cfg.drop0 : edge === 1 ? cfg.drop1 : edge === 2 ? cfg.drop1 * 0.7 : 1) : 0;
      const cy = cfg.y0 + r * cfg.dy + drop;
      const hx = Math.sin(a) * draw / 2, hy = Math.cos(a) * draw / 2;
      attr(t, "x1", cx - hx); attr(t, "y1", cy + hy);
      attr(t, "x2", cx + hx); attr(t, "y2", cy - hy);
      attr(t, "stroke", "#111"); attr(t, "stroke-width", width); attr(t, "stroke-linecap", "round");
    }
  });
}
drawQuiver("quiverB", {row0: fieldAngleRow0B, row1: fieldAngleRow1B, row12: fieldAngleRow12B, row13: fieldAngleRow13B, lens: fieldLengthB, len0: fieldLengthRow0B, len13: fieldLengthRow13B, x0: 1466, y0: 521.5, dx: 38.2, dy: 38.5, drop0: 15, drop1: 7});
drawQuiver("quiverC", {row0: fieldAngleRow0C, row1: fieldAngleRow1C, row12: fieldAngleRow12C, row13: fieldAngleRow13C, lens: fieldLengthC, len0: fieldLengthRow0C, len13: fieldLengthRow13C, x0: 2462.3, y0: 528, dx: 38.2, dy: 38.8, drop0: 0, drop1: 0});
</script>
</body>
</html>
